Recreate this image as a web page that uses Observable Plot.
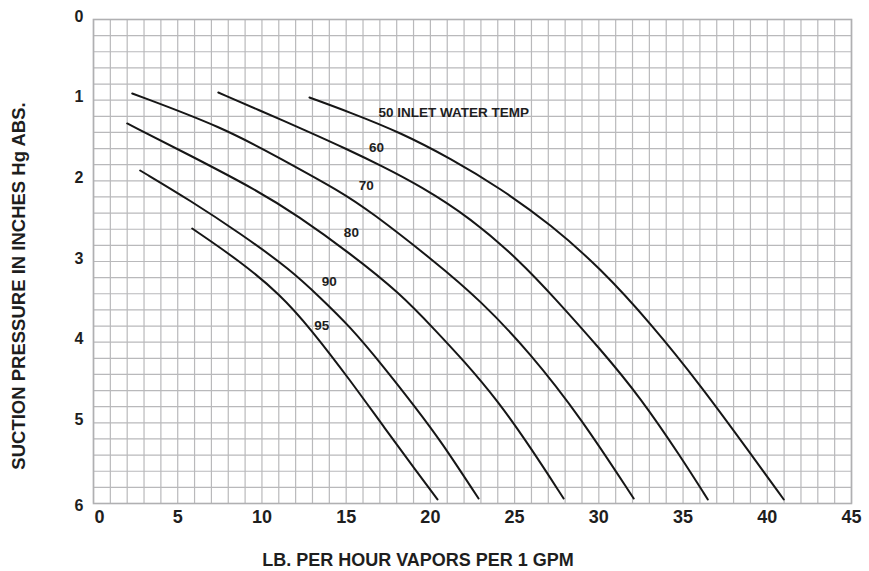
<!DOCTYPE html>
<html><head><meta charset="utf-8">
<script src="https://cdn.jsdelivr.net/npm/d3@7"></script>
<script src="https://cdn.jsdelivr.net/npm/@observablehq/plot@0.6"></script>
<style>body{margin:0;background:#fff} #chart svg{display:block}</style>
</head><body><div id="chart"></div>
<script>
// Tick labels
const xTicks = [0, 5, 10, 15, 20, 25, 30, 35, 40, 45];
const yTicks = [0, 1, 2, 3, 4, 5, 6];
const xTitle = "LB. PER HOUR VAPORS PER 1 GPM";
const yTitle = "SUCTION PRESSURE IN INCHES Hg ABS.";

// Series: inlet water temperature curves (x = lb/hr vapors per 1 GPM, y = suction pressure in. Hg abs.)
const temps = ["50", "60", "70", "80", "90", "95"];
const x50 = [12.82, 15.25, 18.22, 21.20, 24.17, 27.14, 30.11, 33.08, 36.05, 39.02, 40.98];
const y50 = [0.967, 1.153, 1.401, 1.723, 2.095, 2.541, 3.087, 3.768, 4.537, 5.385, 5.950];
const x60 = [7.41, 9.73, 12.70, 15.07, 17.04, 19.41, 22.38, 25.35, 27.32, 30.11, 32.48, 34.86, 36.47];
const y60 = [0.905, 1.115, 1.385, 1.610, 1.808, 2.065, 2.460, 3.000, 3.440, 4.090, 4.690, 5.420, 5.950];
const x70 = [2.30, 7.71, 11.09, 14.66, 16.44, 20.18, 22.98, 25.95, 28.92, 32.07];
const y70 = [0.917, 1.339, 1.723, 2.132, 2.380, 2.987, 3.483, 4.140, 4.934, 5.938];
const x80 = [2.00, 5.75, 9.73, 12.10, 15.25, 18.22, 20.30, 21.97, 23.99, 25.95, 27.91];
const y80 = [1.289, 1.686, 2.120, 2.430, 2.901, 3.397, 3.855, 4.227, 4.723, 5.306, 5.938];
const x90 = [2.77, 5.75, 8.72, 11.69, 13.47, 15.25, 17.21, 19.23, 20.60, 22.86];
const y90 = [1.872, 2.244, 2.653, 3.100, 3.450, 3.810, 4.300, 4.840, 5.220, 5.938];
const x95 = [5.86, 8.72, 11.09, 12.88, 15.25, 17.21, 19.23, 20.42];
const y95 = [2.591, 3.000, 3.409, 3.831, 4.475, 5.045, 5.615, 5.950];

// Curve labels
const labelText = ["50 INLET WATER TEMP", "60", "70", "80", "90", "95"];
const labelX = [16.92, 16.80, 16.20, 15.31, 14.00, 13.55];
const labelY = [1.153, 1.587, 2.058, 2.640, 3.248, 3.793];

const xs = [x50, x60, x70, x80, x90, x95];
const ys = [y50, y60, y70, y80, y90, y95];
const rows = [];
temps.forEach((t, i) => xs[i].forEach((x, j) => rows.push({temp: t, x, y: ys[i][j]})));

const gridXTicks = d3.range(0, 46);
const gridYTicks = d3.range(0, 31).map(i => i / 5);

const font = "'Liberation Sans', Arial, Helvetica, sans-serif";
const ink = "#1e1e1e";
const gridColor = "#b9b9bb";

const chart = Plot.plot({
  width: 869,
  height: 571,
  marginLeft: 93,
  marginRight: 18,
  marginTop: 19,
  marginBottom: 68,
  x: {domain: [0, 45]},
  y: {domain: [0, 6], reverse: true},
  style: {fontFamily: font, fontWeight: "bold", color: ink, background: "#fff"},
  marks: [
    Plot.gridX(gridXTicks, {stroke: gridColor, strokeOpacity: 1, strokeWidth: 1.2}),
    Plot.gridY(gridYTicks, {stroke: gridColor, strokeOpacity: 1, strokeWidth: 1.2}),
    Plot.frame({stroke: "#b0b0b2", strokeWidth: 1.6}),
    Plot.axisX(xTicks.slice(1), {tickSize: 0, tickPadding: 7, fontSize: 18, fontWeight: "bold", fill: ink, tickFormat: d => String(d), label: null}),
    Plot.axisX(xTicks.slice(0, 1), {tickSize: 0, tickPadding: 7, fontSize: 18, fontWeight: "bold", fill: ink, dx: 6, tickFormat: d => String(d), label: null}),
    Plot.axisY(yTicks.slice(0, 6), {tickSize: 0, tickPadding: 10, fontSize: 16, fontWeight: "bold", fill: ink, dy: -3, tickFormat: d => String(d), label: null}),
    Plot.axisY(yTicks.slice(6), {tickSize: 0, tickPadding: 10, fontSize: 16, fontWeight: "bold", fill: ink, dy: 2.5, tickFormat: d => String(d), label: null}),
    Plot.line(rows, {x: "x", y: "y", z: "temp", stroke: "#161616", strokeWidth: 2, curve: "basis"}),
    Plot.text(labelText.slice(0, 1), {x: labelX.slice(0, 1), y: labelY.slice(0, 1), text: d => d, textAnchor: "start", fontSize: 13.5, fontWeight: "bold", fill: ink}),
    Plot.text(labelText.slice(1), {x: labelX.slice(1), y: labelY.slice(1), text: d => d, textAnchor: "middle", fontSize: 13.5, fontWeight: "bold", fill: ink}),
    Plot.text([xTitle], {frameAnchor: "bottom", dx: -54.5, dy: 57, text: d => d, textAnchor: "middle", lineAnchor: "middle", fontSize: 18, fontWeight: "bold", fill: ink}),
    Plot.text([yTitle], {frameAnchor: "left", rotate: -90, dx: -74, dy: 24.5, text: d => d, textAnchor: "middle", lineAnchor: "middle", fontSize: 18.5, fontWeight: "bold", fill: ink})
  ]
});
document.getElementById("chart").append(chart);
</script>
</body></html>
